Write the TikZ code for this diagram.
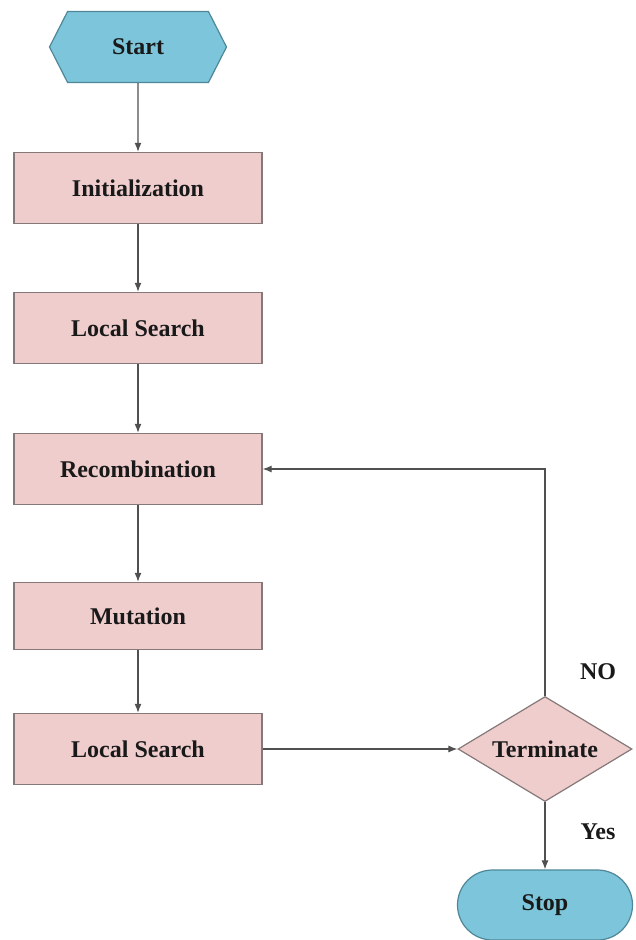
\documentclass[tikz,border=0pt]{standalone}
\usepackage{fontspec}
\setmainfont{Liberation Serif}
\usetikzlibrary{shapes.geometric,shapes.misc,shapes.symbols,arrows.meta}
\definecolor{pinkfill}{HTML}{F0CDCD}
\definecolor{pinkline}{HTML}{857878}
\definecolor{bluefill}{HTML}{7CC5DA}
\definecolor{blueline}{HTML}{4F8798}
\definecolor{arrowgray}{HTML}{505050}
\tikzset{
  x=1pt, y=-1pt,
  lbl/.style={font=\fontsize{24}{26}\selectfont\bfseries, text=black!90},
  procbox/.style={lbl, rectangle, draw=pinkline, fill=pinkfill, line width=1.4pt,
    minimum width=248pt, minimum height=71pt, inner sep=0pt},
  hexbox/.style={lbl, signal, signal to=east and west, signal pointer angle=126,
    draw=blueline, fill=bluefill, line width=1.2pt, minimum width=177pt, minimum height=71pt, inner sep=0pt},
  decbox/.style={lbl, diamond, aspect=1.66, draw=pinkline, fill=pinkfill, line width=1.2pt,
    minimum width=174pt, minimum height=105pt, inner sep=0pt},
  termbox/.style={lbl, rounded rectangle, draw=blueline, fill=bluefill, line width=1.2pt,
    minimum width=175pt, minimum height=70pt, inner sep=0pt},
  conn/.style={draw=arrowgray, line width=1.1pt, -{Latex[length=9pt,width=7pt]}},
  side/.style={lbl}
}
\begin{document}
\begin{tikzpicture}
\useasboundingbox (0,0) rectangle (635,940);
\node[hexbox] (start) at (138,47) {Start};
\node[procbox] (init) at (138,188) {Initialization};
\node[procbox] (ls1) at (138,328) {Local Search};
\node[procbox] (rec) at (138,469) {Recombination};
\node[procbox, minimum height=67pt] (mut) at (138,616) {Mutation};
\node[procbox] (ls2) at (138,749) {Local Search};
\node[decbox] (term) at (545,749) {Terminate};
\node[termbox] (stop) at (545,905) {Stop};
\coordinate (corner) at (545,469);
\node[side] (no) at (598,672) {NO};
\node[side] (yes) at (598,832) {Yes};
\draw[conn] (start) -- (init);
\draw[conn] (init) -- (ls1);
\draw[conn] (ls1) -- (rec);
\draw[conn] (rec) -- (mut);
\draw[conn] (mut) -- (ls2);
\draw[conn] (ls2) -- (term);
\draw[conn] (term.north) -- (corner) -- (rec.east);
\draw[conn] (term) -- (stop);
\end{tikzpicture}
\end{document}
